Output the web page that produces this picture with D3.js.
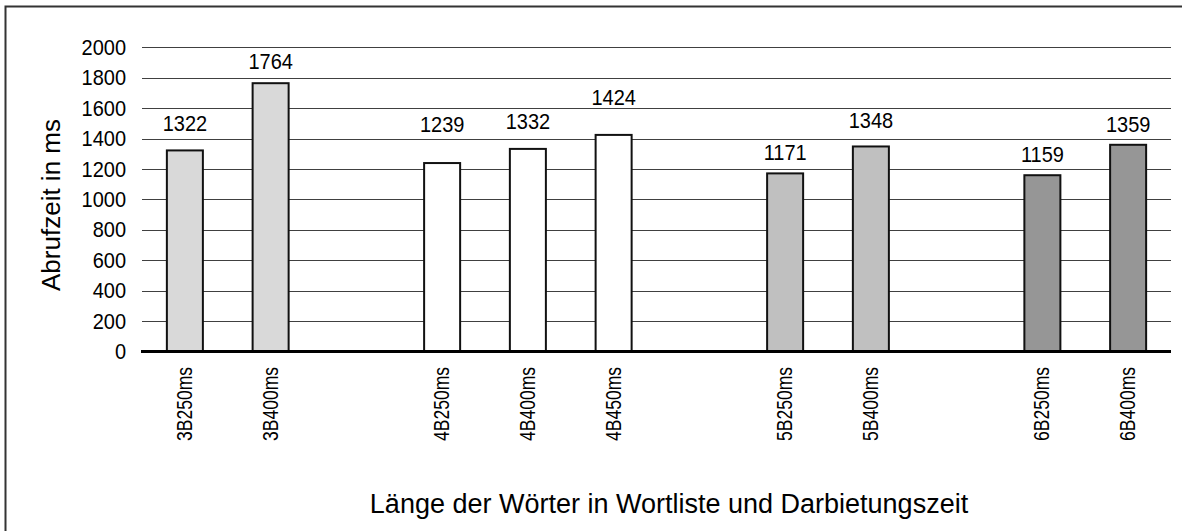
<!DOCTYPE html>
<html>
<head>
<meta charset="utf-8">
<script src="https://cdn.jsdelivr.net/npm/d3@7"></script>
<style>
  body { margin: 0; background: #fff; }
  svg { display: block; font-family: "Liberation Sans", Arial, sans-serif; }
</style>
</head>
<body>
<svg width="1182" height="531"></svg>
<script>
const labels = ['3B250ms', '3B400ms', '4B250ms', '4B400ms', '4B450ms', '5B250ms', '5B400ms', '6B250ms', '6B400ms'];
const groups = ['3B', '3B', '4B', '4B', '4B', '5B', '5B', '6B', '6B'];
const values = [1322, 1764, 1239, 1332, 1424, 1171, 1348, 1159, 1359];
const yTicks = [0, 200, 400, 600, 800, 1000, 1200, 1400, 1600, 1800, 2000];

// label offsets above bar tops, as placed in the original
const labelLift = [19, 14, 31, 20, 30, 13, 18, 13, 13];
const groupColor = { '3B': '#d9d9d9', '4B': '#ffffff', '5B': '#c0c0c0', '6B': '#969696' };

// one empty slot between groups
let slots = [];
labels.forEach((l, i) => {
  if (i > 0 && groups[i] !== groups[i - 1]) slots.push('gap' + i);
  slots.push(l);
});

const svg = d3.select('svg');
const plotL = 142, plotR = 1171, plotT = 47.3, plotB = 351.5;

const x = d3.scaleBand().domain(slots).range([plotL, plotR]).paddingInner(0.58).paddingOuter(0.29);
const y = d3.scaleLinear().domain([0, 2000]).range([plotB, plotT]);

// outer frame (only top and left visible)
svg.append('path')
  .attr('d', 'M5.5,531 V6.5 H1182')
  .attr('fill', 'none')
  .attr('stroke', '#333')
  .attr('stroke-width', 2);

// gridlines
svg.append('g')
  .selectAll('line')
  .data(yTicks.filter(d => d > 0))
  .join('line')
  .attr('x1', plotL).attr('x2', plotR)
  .attr('y1', d => Math.round(y(d)) + 0.5).attr('y2', d => Math.round(y(d)) + 0.5)
  .attr('stroke', '#404040')
  .attr('stroke-width', 1);

// y tick labels
svg.append('g')
  .selectAll('text')
  .data(yTicks)
  .join('text')
  .attr('transform', d => `translate(126,${y(d)}) scale(1,1.08)`)
  .attr('dy', '0.35em')
  .attr('text-anchor', 'end')
  .attr('font-size', 20)
  .text(d => d);

// bars
svg.append('g')
  .selectAll('rect')
  .data(values)
  .join('rect')
  .attr('x', (d, i) => x(labels[i]))
  .attr('y', d => y(d))
  .attr('width', x.bandwidth())
  .attr('height', d => y(0) - y(d))
  .attr('fill', (d, i) => groupColor[groups[i]])
  .attr('stroke', '#111')
  .attr('stroke-width', 2);

// value labels
svg.append('g')
  .selectAll('text')
  .data(values)
  .join('text')
  .attr('transform', (d, i) => `translate(${x(labels[i]) + x.bandwidth() / 2},${y(d) - labelLift[i]}) scale(1,1.08)`)
  .attr('text-anchor', 'middle')
  .attr('font-size', 20)
  .text(d => d);

// baseline
svg.append('line')
  .attr('x1', plotL - 1).attr('x2', plotR)
  .attr('y1', y(0)).attr('y2', y(0))
  .attr('stroke', '#000')
  .attr('stroke-width', 3);

// x tick labels
svg.append('g')
  .selectAll('text')
  .data(labels)
  .join('text')
  .attr('transform', d => `translate(${x(d) + x.bandwidth() / 2 + 7},367) rotate(-90) scale(1,1.3)`)
  .attr('text-anchor', 'end')
  .attr('font-size', 17.5)
  .text(d => d);

// axis titles
svg.append('text')
  .attr('transform', 'translate(60,205) rotate(-90)')
  .attr('text-anchor', 'middle')
  .attr('font-size', 26)
  .text('Abrufzeit in ms');

svg.append('text')
  .attr('x', 669)
  .attr('y', 513)
  .attr('text-anchor', 'middle')
  .attr('font-size', 27)
  .text('Länge der Wörter in Wortliste und Darbietungszeit');
</script>
</body>
</html>
